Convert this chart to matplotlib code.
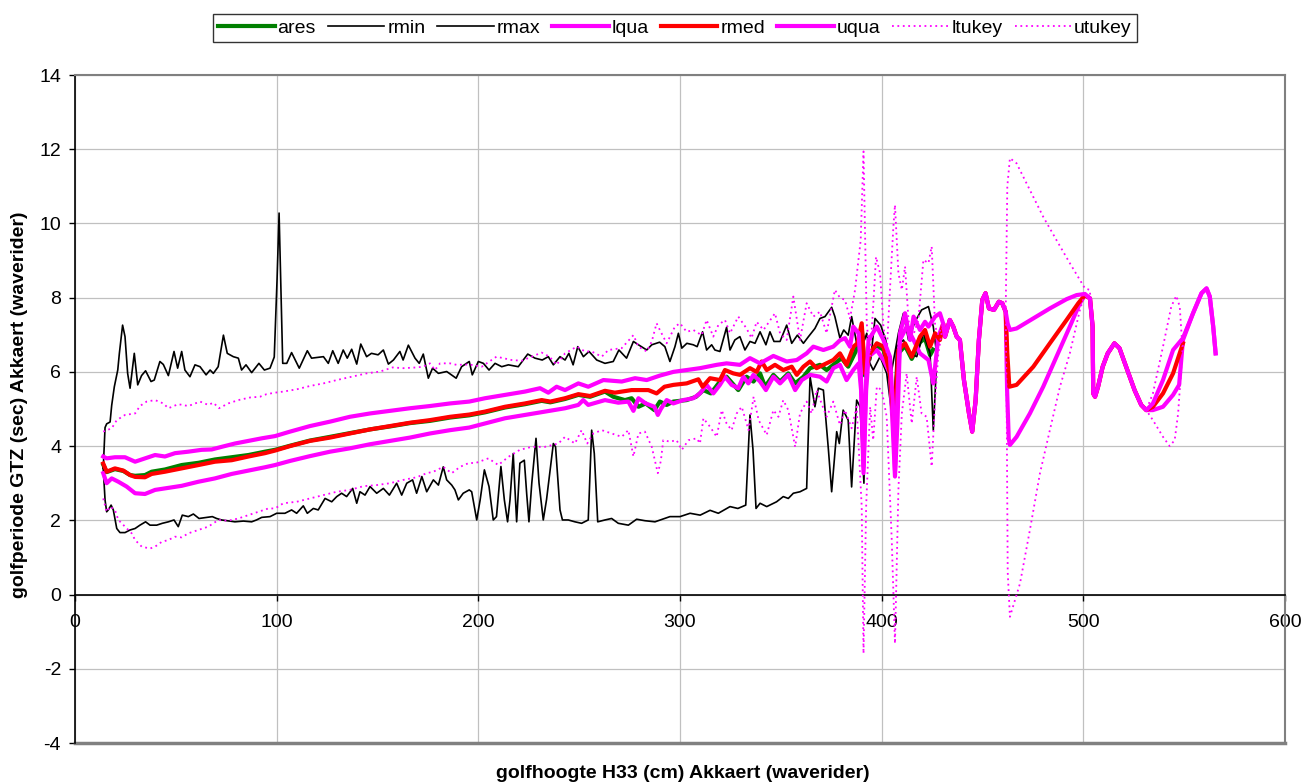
import matplotlib
matplotlib.use("Agg")
import matplotlib.pyplot as plt

plt.rcParams['font.family'] = ['Liberation Sans', 'DejaVu Sans']
plt.rcParams['axes.unicode_minus'] = False

# ---- data ----
ares_x = [14, 15.7, 19.8, 24, 27.3, 29.8, 34.7, 38, 44.6, 52.9, 61.2, 69.4, 77.7, 86, 94.2, 99.2,
          106.6, 116.5, 126.5, 136.3, 146.3, 156.2, 166.1, 176, 186, 195.5, 203.3, 213.2, 223.2,
          231.4, 235.7, 243, 249.6, 255.4, 262.8, 266.9, 272.7, 276, 279.4, 283, 287.3, 290, 293.4,
          296.7, 303.3, 308, 311.6, 315.3, 319.8, 323.1, 328.9, 333, 336.4, 339.7, 342.2, 346.3,
          349.6, 353.7, 357.1, 361.2, 364.5, 369.4, 372.7, 376, 380.1, 383.4, 387.1, 390.1, 391.7,
          394.2, 397.6, 400.9, 404.1, 406.2, 408.3, 411.6, 414.9, 419, 421.5, 424, 425.5]
ares_y = [3.5, 3.3, 3.38, 3.33, 3.22, 3.2, 3.22, 3.31, 3.37, 3.49, 3.55, 3.64, 3.7, 3.76, 3.85, 3.9,
          4.01, 4.15, 4.25, 4.35, 4.45, 4.53, 4.62, 4.68, 4.77, 4.83, 4.91, 5.04, 5.13,
          5.22, 5.18, 5.27, 5.38, 5.33, 5.47, 5.33, 5.24, 5.29, 5.06, 5.15, 4.97, 5.2, 5.11,
          5.2, 5.24, 5.33, 5.51, 5.42, 5.74, 5.87, 5.51, 5.87, 5.74, 5.96, 5.6, 5.92,
          5.74, 5.96, 5.69, 5.87, 6.1, 6.19, 6.05, 6.19, 6.37, 6.14, 6.55, 7.2, 5.9,
          6.45, 6.7, 6.6, 5.9, 4.7, 6.5, 6.7, 6.35, 6.8, 6.9, 6.45, 6.6]

rmin_x = [14, 14.9, 15.7, 16.5, 17.9, 19, 20.7, 22.3, 24.8, 27.3, 29.8, 32.2, 35, 37.2, 40.5, 43.3,
          46.3, 49.1, 51.2, 53.2, 56.2, 58.7, 61.5, 65.3, 68.1, 70.2, 72.7, 75.2, 79.3, 83.5, 87.6,
          90, 92.6, 96.7, 100, 104.1, 107.4, 109.9, 113.2, 115.2, 118.2, 120.6, 124, 127.3, 129.8,
          132.2, 134.7, 137.7, 139.7, 141.3, 143.8, 146.3, 149.6, 152.9, 155.9, 159.5, 162, 164.5,
          167.4, 169.4, 172, 174.4, 177.7, 180.2, 182.6, 184.3, 186.8, 188.4, 190.1, 192.5, 195.5,
          196.7, 199.2, 200.9, 203, 205.3, 207.4, 209, 211.2, 212.9, 214.5, 215.7, 217.3, 218.1,
          219, 220.6, 222.8, 224, 225.1, 226.5, 228.6, 230.1, 232.2, 233.8, 237.2, 238.3, 240.5,
          241.7, 244.6, 247.9, 251.2, 254.5, 256.2, 257.5, 259.2, 262.8, 266.1, 269.4, 274.4, 278.5,
          282.6, 287.6, 292.3, 295, 300, 305, 310, 314.9, 319, 324.8, 328.7, 332.6, 334.7, 336.2,
          337.7, 339.7, 343, 347.9, 351.2, 353.7, 356.2, 359.5, 362.8, 364.5, 366.9, 368.6, 371.1,
          373.6, 375.2, 377.7, 379, 380.9, 383.4, 385.1, 387.6, 389.3, 391.2, 392.6, 395.8, 399.2,
          402.5, 405.8, 407.4, 410.8, 414.1, 417.4, 420.7, 424, 425.6, 427]
rmin_y = [3.4, 2.55, 2.23, 2.28, 2.41, 2.28, 1.78, 1.67, 1.67, 1.74, 1.78, 1.87, 1.96, 1.87, 1.87, 1.92,
          1.96, 2.01, 1.83, 2.14, 2.1, 2.17, 2.05, 2.08, 2.1, 2.05, 2.01, 1.99, 1.96, 1.98, 1.96,
          2.01, 2.08, 2.1, 2.19, 2.19, 2.28, 2.19, 2.39, 2.19, 2.32, 2.28, 2.59, 2.5, 2.64,
          2.73, 2.64, 2.86, 2.46, 2.77, 2.68, 2.91, 2.73, 2.86, 2.68, 3.0, 2.68, 3.0,
          3.09, 2.73, 3.18, 2.77, 3.09, 2.95, 3.44, 3.09, 2.95, 2.82, 2.55, 2.73, 2.82,
          2.77, 2.01, 2.55, 3.36, 2.91, 2.01, 2.1, 3.45, 2.55, 1.96, 2.55, 3.8, 2.9,
          1.96, 3.54, 3.62, 2.7, 1.96, 3.0, 4.21, 3.0, 2.01, 2.55, 4.07, 3.98, 2.28,
          2.01, 2.01, 1.96, 1.92, 2.01, 4.43, 3.8, 1.96, 2.01, 2.05, 1.92, 1.87, 2.03,
          1.99, 1.96, 2.05, 2.1, 2.1, 2.19, 2.14, 2.27, 2.19, 2.37, 2.32, 2.41, 4.84, 3.9,
          2.32, 2.46, 2.37, 2.5, 2.64, 2.59, 2.73, 2.77, 2.86, 5.87, 5.06, 5.56, 5.51,
          3.9, 2.77, 4.39, 4.07, 4.97, 4.7, 2.9, 5.24, 5.06, 3.0, 6.41, 6.05, 6.41,
          5.96, 4.52, 6.68, 6.86, 6.5, 6.41, 7.04, 6.5, 4.43, 6.0]

rmax_x = [14, 14.9, 15.7, 17.4, 18.2, 19.5, 21.2, 22, 23.6, 24.8, 26.1, 27.3, 29.4, 31.1, 33, 35,
          37.7, 39.3, 42.1, 43.8, 46.3, 49.1, 50.9, 52.9, 54.5, 57, 59.5, 62, 65, 67, 68.6, 71, 73.6,
          75.5, 78.5, 81, 82.6, 84.8, 87.6, 91.2, 93.9, 96.7, 98.8, 100.2, 101.2, 102.2, 103, 105,
          107.4, 111.2, 115.2, 117.3, 123.2, 125.6, 127.8, 130.5, 133, 135, 137.2, 139.7, 141.7,
          144.6, 147, 150.3, 152.9, 155.4, 157.9, 161.1, 162.7, 165.3, 168.6, 170.7, 172.7, 175.2,
          177.3, 180.2, 184.3, 189, 191.7, 195.5, 197, 200, 202.5, 205.3, 208.3, 211.6, 214.9,
          219.8, 224.5, 228.1, 231.7, 234.7, 237.2, 240.5, 243, 244.9, 247, 249.3, 252.1, 254.9,
          258.7, 262.8, 266.9, 269.7, 273.5, 276.9, 279.4, 283.5, 286, 289.9, 292.5, 295, 297.5,
          299.2, 300.9, 303.4, 306.6, 308.5, 311.2, 313.2, 315.7, 317.3, 319.8, 323.1, 324.8, 327.2,
          329.7, 332.2, 334.7, 337.2, 339.7, 342.6, 344.6, 346.6, 349.6, 352.9, 355.4, 358.2, 361.2,
          363.7, 366.9, 369.4, 371.9, 375.2, 376.8, 379.3, 381.2, 383.4, 385.1, 387.6, 390, 391.5,
          392.6, 394.5, 396.7, 399.5, 402, 405, 408.3, 410.8, 413.3, 416.5, 419.8, 423.2, 425.6, 427]
rmax_y = [3.4, 4.5, 4.6, 4.65, 5.1, 5.6, 6.05, 6.5, 7.26, 6.95, 5.96, 5.56, 6.5, 5.65, 5.9, 6.03,
          5.74, 5.78, 6.28, 6.2, 5.9, 6.55, 6.1, 6.55, 6.05, 5.87, 6.19, 6.14, 5.92, 6.05, 5.96, 6.14, 6.99,
          6.5, 6.41, 6.37, 6.05, 6.19, 5.98, 6.23, 6.05, 6.1, 6.4, 8.5, 10.28, 8.0, 6.23, 6.23,
          6.52, 6.1, 6.57, 6.37, 6.41, 6.23, 6.57, 6.23, 6.59, 6.37, 6.61, 6.21, 6.75,
          6.41, 6.5, 6.46, 6.59, 6.21, 6.32, 6.55, 6.32, 6.72, 6.37, 6.23, 6.48, 5.83,
          6.1, 5.96, 6.01, 5.83, 6.14, 6.28, 5.92, 6.28, 6.23, 6.05, 6.23, 6.14, 6.19,
          6.14, 6.48, 6.37, 6.32, 6.41, 6.19, 6.41, 6.32, 6.5, 6.19, 6.68, 6.41, 6.55,
          6.32, 6.23, 6.28, 6.59, 6.37, 6.82, 6.73, 6.59, 6.73, 6.8, 6.68, 6.28, 6.68,
          7.04, 6.64, 6.77, 6.73, 6.68, 7.08, 6.59, 6.73, 6.59, 6.55, 7.2, 6.59, 6.86,
          6.95, 6.59, 6.82, 6.77, 7.08, 6.73, 7.08, 6.82, 6.82, 7.26, 6.77, 6.99, 6.77,
          6.95, 7.17, 7.44, 7.49, 7.74, 7.49, 6.91, 7.13, 6.99, 7.49, 6.77, 7.22, 6.86,
          7.04, 6.32, 7.44, 7.26, 6.86, 6.05, 7.04, 7.58, 6.86, 7.35, 7.67, 7.76, 7.22, 6.6]

# quartiles / median up to the point where they merge
lqua_x = [14, 15.7, 18.2, 21.5, 25.6, 29.8, 34.7, 39.7, 44.6, 52.9, 61.2, 69.4, 77.7, 86, 94.2, 99.2,
          106.6, 116.5, 126.5, 136.3, 146.3, 156.2, 166.1, 176, 186, 195.5, 203.3, 213.2, 223.2, 233,
          243, 249.6, 252, 254.5, 262.8, 269.4, 274.4, 276.9, 279.4, 283, 287.3, 289, 290.5, 293.4,
          296.7, 301.6, 306.6, 309.9, 313.2, 316.5, 319.8, 322.3, 325.6, 328.9, 331.4, 333.9, 336.4,
          339.7, 342.6, 346.3, 349.6, 353.7, 357.1, 360.4, 364.5, 369.4, 372.7, 376, 379.3, 382.6,
          385.9, 388.6, 389.8, 391, 392.3, 393.5, 397.6, 400.9, 404.1, 405.5, 406.6, 407.8, 409.1,
          412.4, 415.8, 419, 423.2, 425.6, 428.1]
lqua_y = [3.27, 3.0, 3.13, 3.04, 2.91, 2.73, 2.71, 2.82, 2.86, 2.93, 3.04, 3.13, 3.25, 3.34, 3.43, 3.49,
          3.6, 3.73, 3.85, 3.94, 4.05, 4.14, 4.23, 4.34, 4.43, 4.5, 4.61, 4.75, 4.84, 4.93,
          5.02, 5.11, 5.24, 5.11, 5.24, 5.17, 5.2, 4.95, 5.29, 5.15, 5.06, 4.84, 5.0, 5.24,
          5.15, 5.24, 5.29, 5.42, 5.65, 5.42, 5.65, 5.87, 5.65, 5.56, 5.87, 5.69, 5.92,
          5.74, 5.51, 5.87, 5.69, 5.92, 5.51, 5.78, 5.92, 5.87, 5.74, 6.1, 6.19, 5.78,
          6.05, 6.23, 5.5, 3.27, 5.5, 6.41, 6.59, 6.32, 5.96, 4.5, 3.18, 4.6, 6.86,
          7.22, 6.86, 6.5, 6.32, 5.69, 6.95]

rmed_x = [14, 15.7, 19.8, 24, 27.3, 29.8, 34.7, 38, 44.6, 52.9, 61.2, 69.4, 77.7, 86, 94.2, 99.2,
          106.6, 116.5, 126.5, 136.3, 146.3, 156.2, 166.1, 176, 186, 195.5, 203.3, 213.2, 223.2,
          231.4, 235.7, 243, 249.6, 255.4, 262.8, 267.7, 276, 284.3, 288.4, 292.3, 296.7, 303.3,
          309.1, 311.2, 314.9, 319.8, 322.3, 326.4, 329.7, 334.7, 338, 340.5, 343, 347.1, 351.2,
          355.4, 357.9, 361.2, 364.5, 367.7, 371.1, 376, 379.3, 382.6, 386, 388, 390.1, 391.7,
          394.2, 397.6, 400.9, 404.1, 406.2, 408.3, 411.6, 414.9, 419, 421.5, 424, 426.5, 428.9]
rmed_y = [3.53, 3.31, 3.4, 3.34, 3.22, 3.17, 3.16, 3.25, 3.31, 3.4, 3.49, 3.58, 3.62, 3.72, 3.81, 3.88,
          4.0, 4.14, 4.23, 4.34, 4.45, 4.54, 4.63, 4.7, 4.79, 4.85, 4.93, 5.06, 5.15,
          5.24, 5.2, 5.29, 5.4, 5.35, 5.49, 5.44, 5.51, 5.51, 5.42, 5.6, 5.65, 5.69,
          5.8, 5.6, 5.83, 5.78, 6.05, 5.96, 5.92, 6.1, 6.0, 6.28, 6.05, 6.19, 6.05,
          6.14, 5.92, 6.14, 6.28, 6.1, 6.19, 6.32, 6.5, 6.19, 6.68, 6.77, 7.31, 5.96,
          6.5, 6.77, 6.68, 5.96, 4.61, 6.59, 6.77, 6.41, 6.95, 7.13, 6.68, 7.04, 6.86]

uqua_x = [14, 15.7, 19.8, 24.8, 29.8, 34.7, 39.7, 44.6, 49.6, 56.2, 62.8, 67.8, 72.7, 79.3, 86, 92.6,
          99.2, 106.6, 116.5, 126.5, 136.3, 146.3, 156.2, 166.1, 176, 186, 195.5, 203.3, 213.2,
          223.2, 230.6, 234.7, 238.8, 243, 249.6, 254.5, 262, 271.1, 277.7, 283.5, 290, 296.7,
          303.3, 309.9, 318.2, 323.1, 329.7, 334.7, 339.7, 346.3, 352.9, 357.9, 362.8, 366.1,
          371.1, 376, 379.3, 381.8, 384.3, 385.9, 388.6, 389.8, 391, 392.3, 393.5, 397.6, 400.9,
          404.1, 405.5, 406.6, 407.8, 409.1, 411.6, 414.1, 415.8, 419, 421.5, 423.2, 426.5, 428.9]
uqua_y = [3.72, 3.67, 3.7, 3.7, 3.58, 3.67, 3.76, 3.72, 3.81, 3.85, 3.9, 3.91, 3.98, 4.07, 4.14, 4.21,
          4.27, 4.39, 4.54, 4.66, 4.79, 4.88, 4.95, 5.02, 5.08, 5.15, 5.2, 5.29, 5.38,
          5.47, 5.56, 5.44, 5.6, 5.51, 5.69, 5.6, 5.78, 5.74, 5.83, 5.78, 5.9, 6.0,
          6.05, 6.1, 6.19, 6.23, 6.19, 6.37, 6.23, 6.43, 6.28, 6.32, 6.5, 6.68,
          6.59, 6.68, 6.85, 6.91, 6.68, 7.22, 7.04, 5.8, 3.45, 5.8, 6.86, 7.22, 6.86,
          6.41, 5.2, 3.35, 5.3, 7.04, 7.58, 6.86, 7.49, 7.13, 7.35, 7.22, 7.49, 7.58]

# part where lqua, rmed and uqua coincide
common_x = [430.5, 431.4, 433.8, 435.5, 437.2, 438.8, 440.8, 443.3, 444.9, 446.6, 448.2, 449.9,
            451.5, 453.2, 455.7, 458.1, 459.8, 461.5]
common_y = [7.3, 6.95, 7.4, 7.22, 6.95, 6.86, 5.78, 4.88, 4.39, 5.24, 6.86, 7.94,
            8.12, 7.71, 7.67, 7.89, 7.85, 7.62]
mid_x = [503.3, 504.6, 504.9, 505.8, 507.3, 509.6, 512.1, 515.4, 517.9, 521.2, 525.4, 528.7, 531.2]
mid_y = [7.98, 7.22, 5.42, 5.33, 5.6, 6.14, 6.5, 6.77, 6.64, 6.14, 5.51, 5.11, 4.97]
end_x = [554.4, 558.6, 561.1, 562.7, 564.4, 565.6]
end_y = [7.58, 8.12, 8.25, 8.03, 7.22, 6.5]

lqua_b1_x = [462.2, 463.0, 463.6, 466.9, 473.5, 480.1, 486.7, 493.3, 498.3, 500.8]
lqua_b1_y = [5.5, 4.2, 4.03, 4.25, 4.88, 5.6, 6.41, 7.22, 7.85, 8.07]
lqua_b2_x = [534.5, 539.5, 544.5, 547.5, 549.4]
lqua_b2_y = [4.97, 5.06, 5.38, 5.65, 6.86]
rmed_b1_x = [462.3, 463.3, 466.9, 475.2, 483.4, 491.7, 497.5, 500.8]
rmed_b1_y = [6.5, 5.6, 5.65, 6.14, 6.77, 7.4, 7.85, 8.07]
rmed_b2_x = [534.5, 539.5, 544.5, 549.4]
rmed_b2_y = [5.06, 5.42, 5.96, 6.77]
uqua_b1_x = [462.5, 463.6, 466.9, 475.2, 483.4, 491.7, 496.7, 500.8]
uqua_b1_y = [7.3, 7.13, 7.17, 7.44, 7.71, 7.96, 8.07, 8.1]
uqua_b2_x = [534.5, 539.5, 544.5, 549.4]
uqua_b2_y = [5.15, 5.78, 6.59, 6.91]

ltukey_x = [14, 15.7, 17.4, 19.8, 21.5, 24.8, 28.1, 29.8, 33.1, 37.2, 39.7, 43, 46.3, 49.6, 52.9, 56.2,
            61.2, 66.1, 71.1, 76, 81, 86, 90.9, 95.9, 99.2, 103.3, 109.9, 116.5, 123.2, 129.8, 136.3,
            143, 149.6, 156.2, 162.8, 169.4, 174.4, 177.7, 182.6, 186.8, 190.9, 195.5, 198.4, 205,
            209.9, 214.9, 220.6, 226.5, 233, 239.7, 243, 247.9, 251.2, 254, 257, 261.2, 266.1, 271.1,
            274.4, 276.9, 279.4, 282.6, 286, 289, 290.5, 291.7, 295, 298.3, 300.9, 304.2, 308.3,
            309.9, 311.6, 314.9, 318.2, 320.7, 323.1, 325.6, 328.1, 330.6, 334, 336.5, 339, 343,
            346.3, 348.8, 351.2, 353.7, 357.1, 359.5, 362.8, 365.3, 367.7, 370.2, 372.7, 376, 379.3,
            381.8, 385.1, 387.6, 390.1, 391, 392.3, 394.3, 395.8, 397.6, 400, 402.5, 405, 406.6,
            408.3, 410, 412.4, 414.9, 417.4, 419.8, 422.3, 424.8, 426.5, 428.1]
ltukey_y = [2.59, 2.23, 2.37, 2.28, 2.01, 1.83, 1.65, 1.47, 1.29, 1.24, 1.29, 1.42, 1.47, 1.56, 1.54, 1.65,
            1.74, 1.83, 2.01, 1.99, 2.05, 2.14, 2.23, 2.32, 2.32, 2.46, 2.5, 2.59, 2.68, 2.77, 2.82,
            2.92, 2.95, 3.0, 3.09, 3.16, 3.27, 3.31, 3.44, 3.27, 3.44, 3.55, 3.54, 3.67,
            3.49, 3.71, 3.9, 3.98, 3.98, 4.07, 4.25, 4.07, 4.43, 4.07, 4.34, 4.43, 4.34, 4.25,
            4.43, 3.72, 4.34, 4.39, 3.98, 3.27, 3.6, 4.16, 4.12, 4.16, 3.9, 4.16, 4.21,
            4.07, 4.75, 4.52, 4.25, 4.97, 4.61, 4.43, 4.88, 5.06, 4.43, 5.33, 4.7, 4.3,
            4.97, 4.79, 5.24, 4.97, 3.98, 4.88, 5.2, 4.88, 5.51, 5.15, 4.79, 5.2, 4.57,
            4.97, 4.48, 5.06, 2.37, -1.59, 2.37, 5.06, 4.16, 5.6, 5.51, 4.79, 1.47, -1.32,
            2.82, 4.88, 5.96, 4.61, 5.87, 4.88, 4.79, 3.45, 5.24, 6.5]
ltukey_b1_x = [462.0, 462.5, 463.6, 468.6, 473.5, 478.5, 483.4, 488.4, 493.3, 498.3, 500.8]
ltukey_b1_y = [5.0, 0.6, -0.6, 0.3, 1.74, 3.27, 4.43, 5.6, 6.5, 7.67, 8.1]
ltukey_b2_x = [534.5, 539.5, 542.8, 545.3, 547, 548.6, 549.4]
ltukey_b2_y = [4.7, 4.25, 4.0, 4.16, 4.88, 6.14, 6.77]

utukey_x = [14, 18.2, 20.7, 24.8, 29.8, 32.2, 35.5, 39.7, 43.8, 46.3, 51.2, 56.2, 62, 66.1, 68.6, 71.4,
            76, 81, 86.8, 91.7, 95, 99.2, 103.3, 109.9, 116.5, 123.2, 129.8, 137.2, 144.6, 151.3,
            157.5, 162.8, 169.4, 172.7, 176, 178.5, 181, 186, 189.2, 195.5, 201.7, 209, 216.5, 221.5,
            226.5, 231.4, 235.3, 238.8, 243, 248.8, 252.9, 256.2, 261.2, 264.5, 271.1, 276.9, 279.4,
            283.5, 286, 288.4, 290, 293.4, 297.5, 300, 303.3, 306.6, 310.7, 313.2, 316.5, 319, 322.3,
            324.8, 328.9, 333, 335.5, 338, 341.4, 347.1, 349.6, 352.9, 356.2, 359.5, 362.8, 366.1,
            369.4, 372.7, 375.2, 376.8, 379.3, 381.8, 384.3, 386.8, 389.6, 391, 392.6, 394.2, 395.8,
            397.2, 399.2, 400.9, 402.5, 404.1, 405.8, 406.6, 408.3, 410, 411.6, 413.3, 414.9, 418.2,
            420.7, 423.2, 424.8, 426.5, 428.1]
utukey_y = [4.39, 4.48, 4.7, 4.84, 4.88, 5.08, 5.2, 5.24, 5.15, 5.02, 5.13, 5.08, 5.2, 5.11, 5.17, 5.02,
            5.15, 5.24, 5.31, 5.33, 5.4, 5.44, 5.47, 5.53, 5.62, 5.69, 5.78, 5.87, 5.96, 6.01,
            6.12, 6.1, 6.12, 6.14, 6.23, 6.05, 6.23, 6.23, 6.19, 6.2, 6.14, 6.41, 6.32, 6.3,
            6.41, 6.52, 6.41, 6.19, 6.5, 6.68, 6.55, 6.55, 6.41, 6.59, 6.64, 6.99, 6.68,
            6.55, 6.82, 7.31, 7.13, 6.77, 7.22, 7.31, 7.08, 7.13, 6.99, 7.4, 6.95, 7.26, 7.4,
            7.04, 7.49, 7.17, 6.91, 7.35, 7.13, 7.58, 7.04, 6.86, 8.03, 6.86, 7.85, 7.49,
            7.62, 7.04, 7.76, 8.21, 8.0, 7.94, 7.44, 8.21, 9.55, 11.94, 7.31, 6.41, 7.76,
            9.1, 8.66, 7.22, 6.5, 8.21, 9.91, 10.5, 8.66, 8.21, 8.84, 7.4, 6.86, 7.4,
            9.02, 8.93, 9.38, 7.22, 7.0]
utukey_b1_x = [462.3, 463.6, 466.9, 473.5, 480.1, 486.7, 493.3, 498.3, 500.8, 503.2]
utukey_b1_y = [11.0, 11.76, 11.62, 10.9, 10.18, 9.55, 8.93, 8.48, 8.25, 8.21]
utukey_b2_x = [534.5, 539.5, 543.6, 546.1, 547.8, 549.1]
utukey_b2_y = [5.42, 6.68, 7.76, 8.05, 7.76, 6.68]

# build full series
lqua_all_x = lqua_x + common_x + lqua_b1_x + mid_x + lqua_b2_x + end_x
lqua_all_y = lqua_y + common_y + lqua_b1_y + mid_y + lqua_b2_y + end_y
rmed_all_x = rmed_x + common_x + rmed_b1_x + mid_x + rmed_b2_x
rmed_all_y = rmed_y + common_y + rmed_b1_y + mid_y + rmed_b2_y
uqua_all_x = uqua_x + common_x + uqua_b1_x + mid_x + uqua_b2_x + end_x
uqua_all_y = uqua_y + common_y + uqua_b1_y + mid_y + uqua_b2_y + end_y
ltukey_all_x = ltukey_x + common_x + ltukey_b1_x + mid_x + ltukey_b2_x
ltukey_all_y = ltukey_y + common_y + ltukey_b1_y + mid_y + ltukey_b2_y
utukey_all_x = utukey_x + common_x + utukey_b1_x + mid_x[1:] + utukey_b2_x
utukey_all_y = utukey_y + common_y + utukey_b1_y + mid_y[1:] + utukey_b2_y

fig = plt.figure(figsize=(13.02, 7.84), dpi=100)
ax = fig.add_axes([75 / 1302, 41 / 784, 1210 / 1302, 668 / 784])

thick = 3.0
ax.plot(ares_x, ares_y, color='#008000', lw=thick, label='ares', zorder=3)
ax.plot(rmin_x, rmin_y, color='black', lw=1.2, label='rmin', zorder=3)
ax.plot(rmax_x, rmax_y, color='black', lw=1.2, label='rmax', zorder=3)
ax.plot(lqua_all_x, lqua_all_y, color='#FF00FF', lw=thick, label='lqua', zorder=3)
ax.plot(rmed_all_x, rmed_all_y, color='#FF0000', lw=thick, label='rmed', zorder=3)
ax.plot(uqua_all_x, uqua_all_y, color='#FF00FF', lw=thick, label='uqua', zorder=3)
ax.plot(ltukey_all_x, ltukey_all_y, color='#FF00FF', lw=1.3, ls=(0, (1, 2)), label='ltukey', zorder=3)
ax.plot(utukey_all_x, utukey_all_y, color='#FF00FF', lw=1.3, ls=(0, (1, 2)), label='utukey', zorder=3)

ax.set_xlim(0, 600)
ax.set_ylim(-4, 14)
ax.set_xticks(range(0, 601, 100))
ax.set_yticks(range(-4, 15, 2))
ax.grid(True, color='#c0c0c0', lw=0.9)
ax.set_axisbelow(True)

for s in ['top', 'right']:
    ax.spines[s].set_color('#808080')
    ax.spines[s].set_linewidth(1.5)
ax.spines['left'].set_color('black')
ax.spines['left'].set_linewidth(1.2)
ax.spines['bottom'].set_position(('data', 0))
ax.spines['bottom'].set_color('black')
ax.spines['bottom'].set_linewidth(1.2)
ax.axhline(-4, color='#808080', lw=2.5, clip_on=False, zorder=1)

ax.tick_params(axis='both', direction='out', length=4, width=1, labelsize=14, colors='black')
ax.tick_params(axis='x', pad=10)
ax.tick_params(axis='y', pad=6)

fig.text(20 / 1302, 1 - 405 / 784, 'golfperiode GTZ (sec) Akkaert (waverider)', rotation=90,
         ha='center', va='center', fontsize=14, fontweight='bold')
fig.text(683 / 1302, 1 - 773 / 784, 'golfhoogte H33 (cm) Akkaert (waverider)',
         ha='center', va='center', fontsize=14, fontweight='bold')

leg = fig.legend(loc='center', bbox_to_anchor=(675 / 1302, 1 - 28 / 784), ncol=8,
                 fontsize=14, frameon=True, fancybox=False, edgecolor='black',
                 handlelength=2.9, handletextpad=0.15, columnspacing=0.62, borderpad=0.25)
leg.get_frame().set_linewidth(1.0)

fig.savefig('out.png', dpi=100)
